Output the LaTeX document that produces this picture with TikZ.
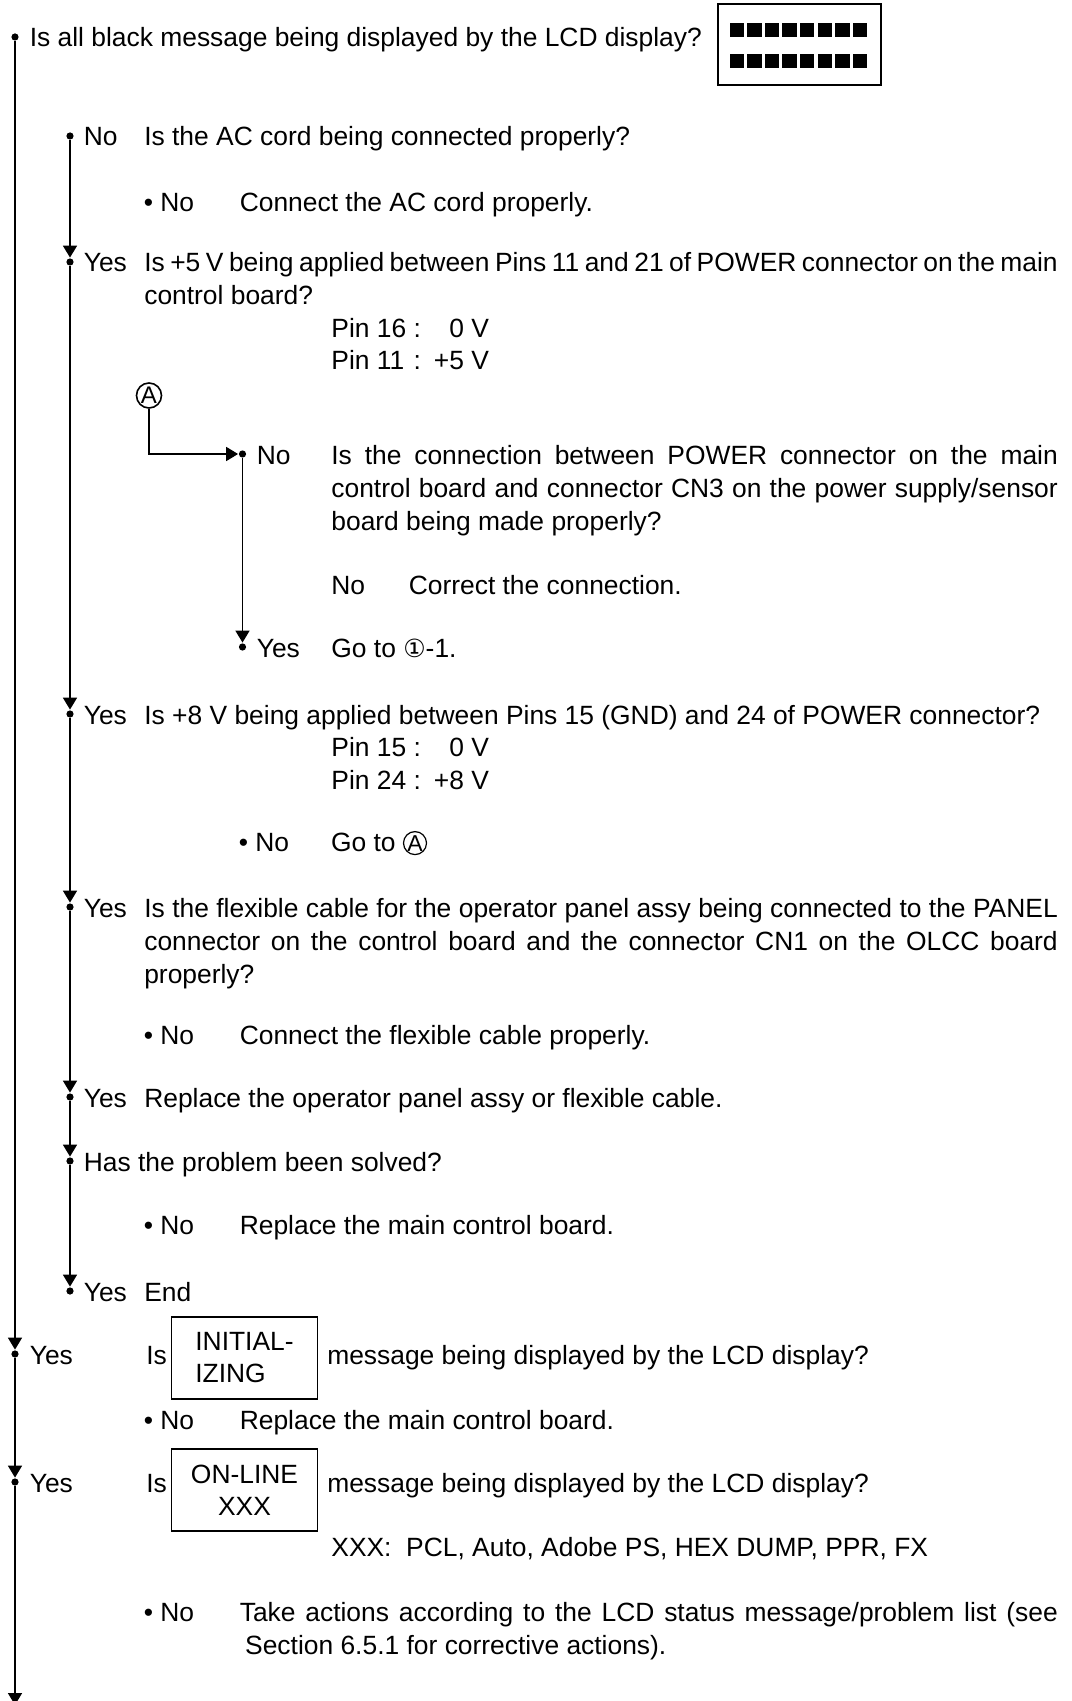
\documentclass[tikz,border=0pt]{standalone}
\usepackage{fontspec}
\setmainfont{Liberation Sans}
\newfontfamily\symfont{DejaVu Sans}
\usetikzlibrary{arrows.meta}
\setlength{\parindent}{0pt}
\newcommand{\circnum}[1]{{\symfont\fontsize{12.5}{12.5}\selectfont #1}}
\newcommand{\circlet}[1]{\tikz[baseline=(c.base)]\node[draw, circle, line width=0.6pt, inner sep=0pt, minimum size=11.5pt, font=\fontsize{11.5}{11.5}\selectfont] (c) {#1};}

\begin{document}
\begin{tikzpicture}[x=0.5pt, y=-0.5pt, line width=0.8pt,
    txt/.style={anchor=base west, inner sep=0pt, font=\fontsize{13.2}{16.5}\selectfont},
    para/.style={txt, align=justify},
    dot/.style={circle, fill, inner sep=0pt, minimum size=3.6pt},
    flow/.style={-{Triangle[length=6pt,width=7pt]}},
    msgbox/.style={draw, minimum width=73pt, minimum height=41pt, inner sep=0pt,
        font=\fontsize{13.2}{16}\selectfont}]
    \useasboundingbox (0,0) rectangle (1071,1701);

    \node[dot] (d0) at (15,37) {};
    \node[txt] (q0) at (29,47) {Is all black message being displayed by the LCD display?};
    \node[draw, minimum width=81.5pt, minimum height=40.5pt, inner sep=0pt] (lcd) at (799.5,44.5) {};
    \foreach \r in {29.7,61.3}
        \foreach \i in {0,...,7}
            \fill (729.5+\i*17.6,\r-7) rectangle ++(14.5,14);

    \node[dot] (d1) at (70,136) {};
    \node[txt] (n1) at (83,146) {No};
    \node[txt] (q1) at (143.5,146) {Is the AC cord being connected properly?};
    \node[txt] (b1) at (143,212) {• No};
    \node[txt] (r1) at (239,212) {Connect the AC cord properly.};

    \node[dot] (d2) at (70,262) {};
    \node[txt] (y2) at (83,272) {Yes};
    \node[para, text width=456.75pt] (q2) at (143.5,272)
        {Is +5 V being applied between Pins 11 and 21 of POWER connector on the main\linebreak control board?};
    \node[txt] (p2) at (330.6,337)
        {\begin{tabular}[t]{@{}l@{\ :\hspace{6.5pt}}r@{}}Pin 16 & 0 V\\ Pin 11 & +5 V\end{tabular}};

    \node[draw, circle, minimum size=12.5pt, inner sep=0pt, font=\fontsize{12}{12}\selectfont] (cA) at (149,395.5) {A};
    \node[dot] (d3) at (242.5,454) {};
    \node[txt] (n3) at (256,464) {No};
    \node[para, text width=363.2pt] (q3) at (330.6,464)
        {Is the connection between POWER connector on the main\linebreak control board and connector CN3 on the power supply/sensor\linebreak board being made properly?};
    \node[txt] (n3b) at (330.6,594) {No};
    \node[txt] (r3) at (408,594) {Correct the connection.};
    \node[dot] (d4) at (242.5,647) {};
    \node[txt] (y4) at (256,657) {Yes};
    \node[txt] (r4) at (330.6,657) {Go to \circnum{①}-1.};

    \node[dot] (d5) at (70,714) {};
    \node[txt] (y5) at (83,724) {Yes};
    \node[txt] (q5) at (143.5,724) {Is +8 V being applied between Pins 15 (GND) and 24 of POWER connector?};
    \node[txt] (p5) at (330.6,756)
        {\begin{tabular}[t]{@{}l@{\ :\hspace{6.5pt}}r@{}}Pin 15 & 0 V\\ Pin 24 & +8 V\end{tabular}};
    \node[txt] (b5) at (238,851) {• No};
    \node[txt] (r5) at (330.6,851) {Go to \circlet{A}};

    \node[dot] (d6) at (70,907) {};
    \node[txt] (y6) at (83,917) {Yes};
    \node[para, text width=456.75pt] (q6) at (143.5,917)
        {Is the flexible cable for the operator panel assy being connected to the PANEL\linebreak connector on the control board and the connector CN1 on the OLCC board\linebreak properly?};
    \node[txt] (b6) at (143,1044) {• No};
    \node[txt] (r6) at (239,1044) {Connect the flexible cable properly.};

    \node[dot] (d7) at (70,1097) {};
    \node[txt] (y7) at (83,1107) {Yes};
    \node[txt] (r7) at (143.5,1107) {Replace the operator panel assy or flexible cable.};

    \node[dot] (d8) at (70,1161) {};
    \node[txt] (q8) at (83,1171) {Has the problem been solved?};
    \node[txt] (b8) at (143,1234) {• No};
    \node[txt] (r8) at (239,1234) {Replace the main control board.};

    \node[dot] (d9) at (70,1291) {};
    \node[txt] (y9) at (83,1301) {Yes};
    \node[txt] (r9) at (143.5,1301) {End};

    \node[dot] (d10) at (15,1354) {};
    \node[txt] (y10) at (29,1364) {Yes};
    \node[txt] (is10) at (145.5,1364) {Is};
    \node[msgbox, align=left] (init) at (244.5,1358) {INITIAL-\\IZING};
    \node[txt] (q10) at (326.5,1364) {message being displayed by the LCD display?};
    \node[txt] (b10) at (143,1429) {• No};
    \node[txt] (r10) at (239,1429) {Replace the main control board.};

    \node[dot] (d11) at (15,1482) {};
    \node[txt] (y11) at (29,1492) {Yes};
    \node[txt] (is11) at (145.5,1492) {Is};
    \node[msgbox, align=center] (online) at (244.5,1490) {ON-LINE\\XXX};
    \node[txt] (q11) at (326.5,1492) {message being displayed by the LCD display?};
    \node[txt] (x11) at (330.6,1556) {XXX:\ \ PCL, Auto, Adobe PS, HEX DUMP, PPR, FX};
    \node[txt] (b11) at (143,1621) {• No};
    \node[para, text width=409pt] (r11) at (239,1621)
        {Take actions according to the LCD status message/problem list (see\linebreak \hspace*{2.7pt}Section 6.5.1 for corrective actions).};
    \coordinate (bot) at (15,1705);

    \foreach \a/\b in {d0/d10,d10/d11,d11/bot,d1/d2,d2/d5,d5/d6,d6/d7,d7/d8,d8/d9,d3/d4}
        \draw[flow] (\a) -- (\b);
    \draw[flow] (cA) |- (d3);
\end{tikzpicture}
\end{document}
